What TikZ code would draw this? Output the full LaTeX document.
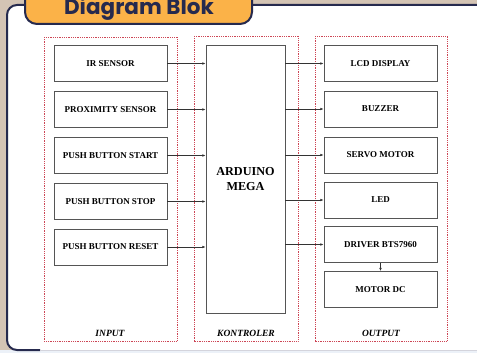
\documentclass[tikz,border=0pt]{standalone}
\usepackage{fontspec}
\setmainfont{Liberation Serif}
\newfontfamily\pop{Poppins}
\usetikzlibrary{arrows.meta}
\definecolor{beige}{RGB}{212,196,180}
\definecolor{navy}{RGB}{38,42,78}
\definecolor{tabor}{RGB}{251,178,72}
\definecolor{dotred}{RGB}{205,70,85}
\definecolor{boxgray}{RGB}{85,85,85}
\definecolor{paleblue}{RGB}{236,241,248}
\tikzset{
  box/.style={draw=boxgray, line width=0.8pt, fill=white, minimum width=113pt, minimum height=36pt, inner sep=0pt, font=\bfseries\fontsize{9}{10}\selectfont},
  group/.style={draw=dotred, line width=0.9pt, dash pattern=on 0.9pt off 0.9pt},
  grouplabel/.style={font=\bfseries\itshape\fontsize{9.5}{10}\selectfont},
  arr/.style={draw=black!80, line width=0.6pt, -{Latex[length=3.2pt,width=2.6pt]}}
}
\begin{document}
\begin{tikzpicture}[x=1pt,y=-1pt]
\useasboundingbox (0,0) rectangle (477,353);
\fill[beige] (0,0) rectangle (477,353);
\fill[paleblue] (0,350) rectangle (477,353);
% panel
\fill[white] (7,5) [rounded corners=10pt] -- (490,5) -- (490,350) -- (7,350) -- cycle;
\draw[navy, line width=2pt, rounded corners=10pt] (490,5) -- (7,5) -- (7,350) -- (40,350);
\draw[navy!20, line width=1pt] (40,350) -- (477,350);
% tab
\draw[navy, line width=2pt, fill=tabor, rounded corners=12pt] (25,-30) -- (25,24) -- (252,24) -- (252,-30);
\node[font=\pop\bfseries\fontsize{21.5}{24}\selectfont, text=navy, anchor=base] (title) at (139,15) {Diagram Blok};
% groups
\draw[group] (44,37) rectangle (177,341);
\draw[group] (194,36) rectangle (298,341);
\draw[group] (315,36) rectangle (447,341);
\node[grouplabel] (lin) at (110,333) {INPUT};
\node[grouplabel] (lkon) at (246,333) {KONTROLER};
\node[grouplabel] (lout) at (381,333) {OUTPUT};
% input boxes
\node[box] (ir) at (110.5,63.5) {IR SENSOR};
\node[box] (prox) at (110.5,109.5) {PROXIMITY SENSOR};
\node[box] (pbstart) at (110.5,155.5) {PUSH BUTTON START};
\node[box] (pbstop) at (110.5,201.5) {PUSH BUTTON STOP};
\node[box] (pbreset) at (110.5,247) {PUSH BUTTON RESET};
% controller
\node[box, minimum width=79pt, minimum height=268pt, align=center, font=\bfseries\fontsize{12.2}{15.5}\selectfont] (ard) at (245.5,179) {ARDUINO\\MEGA};
% outputs
\node[box] (lcd) at (380.5,63.5) {LCD DISPLAY};
\node[box] (buz) at (380.5,109) {BUZZER};
\node[box] (servo) at (380.5,155) {SERVO MOTOR};
\node[box] (led) at (380.5,200) {LED};
\node[box] (drv) at (380.5,244.5) {DRIVER BTS7960};
\node[box] (mot) at (380.5,289.5) {MOTOR DC};
% arrows
\foreach \n in {ir,prox,pbstart,pbstop,pbreset}{
  \draw[arr] (\n.east) -- (\n.east -| ard.west);
}
\foreach \n in {lcd,buz,servo,led,drv}{
  \draw[arr] (\n.west -| ard.east) -- (\n.west);
}
\draw[arr] (drv.south) -- (mot.north);
\end{tikzpicture}
\end{document}
